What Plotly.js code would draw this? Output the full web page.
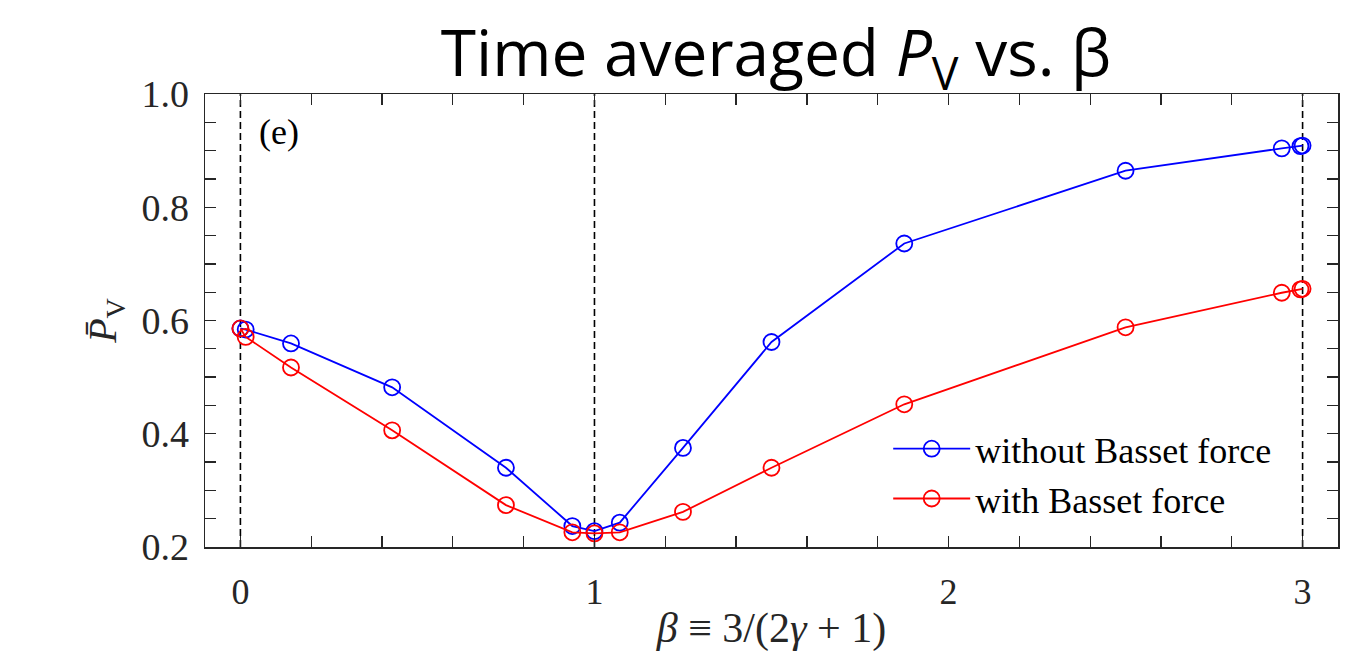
<!DOCTYPE html>
<html>
<head>
<meta charset="utf-8">
<script src="https://cdn.plot.ly/plotly-3.0.1.min.js"></script>
<style>
  html, body { margin: 0; padding: 0; background: #ffffff; }
  #chart { width: 1349px; height: 658px; }
</style>
</head>
<body>
<div id="chart"></div>
<script>
// β = 3/(2γ+1) sample values
const beta = [0, 0.0149, 0.1429, 0.4286, 0.75, 0.9375, 1, 1.0714, 1.25, 1.5, 1.875, 2.5, 2.9412, 2.994, 3];
const withoutBasset = [0.586, 0.584, 0.5595, 0.482, 0.340, 0.237, 0.228, 0.243, 0.375, 0.562, 0.736, 0.8645, 0.904, 0.908, 0.909];
const withBasset    = [0.586, 0.571, 0.517, 0.406, 0.274, 0.226, 0.224, 0.226, 0.262, 0.340, 0.452, 0.588, 0.649, 0.655, 0.656];
const seriesNames = ["without Basset force", "with Basset force"];
const refLines = [0, 1, 3];
const xTicks = [0, 1, 2, 3];
const yTicks = [0.2, 0.4, 0.6, 0.8, 1.0];

const serif = "Liberation Serif, Times New Roman, serif";
const axisColor = "#262626";

const traces = [
  {
    x: beta, y: withoutBasset, name: seriesNames[0],
    type: "scatter", mode: "lines+markers",
    line: { color: "#0000ff", width: 1.8 },
    marker: { symbol: "circle-open", size: 16, color: "#0000ff", line: { width: 1.8, color: "#0000ff" } }
  },
  {
    x: beta, y: withBasset, name: seriesNames[1],
    type: "scatter", mode: "lines+markers",
    line: { color: "#ff0000", width: 1.8 },
    marker: { symbol: "circle-open", size: 16, color: "#ff0000", line: { width: 1.8, color: "#ff0000" } }
  }
];

const shapes = refLines.map(v => ({
  type: "line", xref: "x", yref: "paper", x0: v, x1: v, y0: 0, y1: 1,
  line: { color: "#000000", width: 1.6, dash: "7px,4px" }, layer: "below"
}));

const layout = {
  width: 1349, height: 658,
  paper_bgcolor: "#ffffff", plot_bgcolor: "#ffffff",
  margin: { l: 205, r: 11, t: 94, b: 111 },
  showlegend: true,
  title: {
    text: "Time averaged <i>P</i><sub>V</sub> vs. β",
    font: { family: "Open Sans, Noto Sans, sans-serif", size: 64, color: "#000000" },
    x: 776 / 1349, xanchor: "center", xref: "container",
    y: 1 - 54 / 658, yanchor: "middle", yref: "container"
  },
  xaxis: {
    range: [-0.1, 3.1],
    tickvals: xTicks, ticktext: xTicks.map(String),
    ticks: "inside", ticklen: 11, tickwidth: 1.3, tickcolor: axisColor,
    minor: { dtick: 0.2, ticks: "inside", ticklen: 11, tickwidth: 1.3, tickcolor: axisColor, showgrid: false },
    showline: true, linecolor: axisColor, linewidth: 1.5, mirror: "allticks",
    showgrid: false, zeroline: false,
    tickfont: { family: serif, size: 36, color: axisColor },
    ticklabelstandoff: 12,
    title: { text: "<i>β</i> ≡ 3/(2<i>γ</i> + 1)", font: { family: serif, size: 42, color: axisColor }, standoff: 2 }
  },
  yaxis: {
    range: [0.2, 1.0],
    tickvals: yTicks, ticktext: yTicks.map(v => v.toFixed(1)),
    ticks: "inside", ticklen: 11, tickwidth: 1.3, tickcolor: axisColor,
    minor: { dtick: 0.05, ticks: "inside", ticklen: 11, tickwidth: 1.3, tickcolor: axisColor, showgrid: false },
    showline: true, linecolor: axisColor, linewidth: 1.5, mirror: "allticks",
    showgrid: false, zeroline: false,
    tickfont: { family: serif, size: 38, color: axisColor },
    ticklabelstandoff: 7,
    title: { text: "<i>P̄</i><sub>V</sub>", font: { family: serif, size: 40, color: axisColor }, standoff: 12 }
  },
  legend: {
    x: 0.603, xanchor: "left", y: 0.283, yanchor: "top",
    bgcolor: "rgba(0,0,0,0)", borderwidth: 0,
    font: { family: serif, size: 36, color: "#000000" },
    itemwidth: 77
  },
  shapes: shapes,
  annotations: [
    {
      text: "(e)", xref: "paper", yref: "paper", x: 0.046, y: 0.965,
      xanchor: "left", yanchor: "top", showarrow: false,
      font: { family: serif, size: 36, color: "#000000" }
    }
  ]
};

Plotly.newPlot("chart", traces, layout, { displayModeBar: false, staticPlot: true });
</script>
</body>
</html>
